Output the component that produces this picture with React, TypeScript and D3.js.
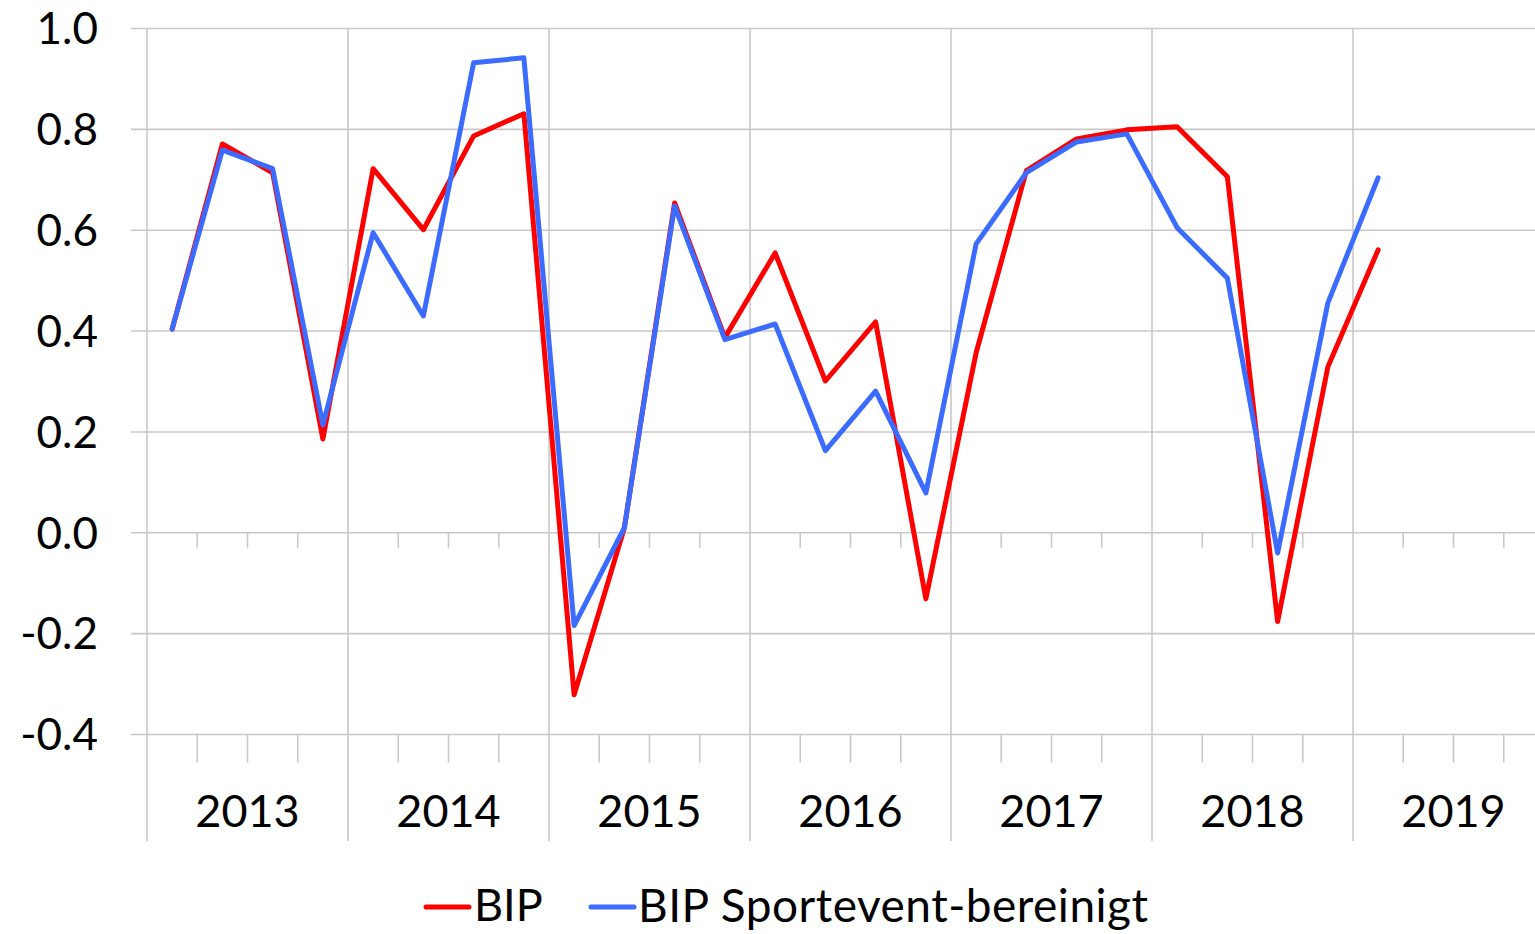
import React from "react";
import * as d3 from "d3";

const years = ["2013", "2014", "2015", "2016", "2017", "2018", "2019"];
const yTicks = [1.0, 0.8, 0.6, 0.4, 0.2, 0.0, -0.2, -0.4];
const bip = [0.404, 0.771, 0.714, 0.186, 0.722, 0.601, 0.787, 0.831, -0.321, 0.01, 0.654, 0.387, 0.555, 0.301, 0.418, -0.131, 0.357, 0.718, 0.781, 0.799, 0.805, 0.706, -0.176, 0.329, 0.561];
const bipAdj = [0.404, 0.759, 0.722, 0.214, 0.595, 0.43, 0.932, 0.942, -0.184, 0.01, 0.648, 0.383, 0.414, 0.163, 0.281, 0.079, 0.573, 0.714, 0.775, 0.791, 0.605, 0.505, -0.04, 0.456, 0.704];
const seriesNames = ["BIP", "BIP Sportevent-bereinigt"];
const colors = ["#ff0000", "#3b6bff"];

const W = 1535, H = 934;
const FONT = "Lato, 'Open Sans', sans-serif";

export default function App() {
  const nQ = years.length * 4;
  const x = d3.scaleLinear().domain([0, nQ]).range([147, 147 + nQ * 50.25]);
  const y = d3.scaleLinear().domain([-0.4, 1.0]).range([734.5, 28.5]);
  const line = d3.line<number>().x((_, i) => x(i + 0.5)).y((d) => y(d));
  const grid = "#c8c8c8";
  const zeroY = y(0);
  const botY = y(-0.4);
  return (
    <svg width={W} height={H} style={{ position: "absolute", left: 0, top: 0, background: "#fff" }}>
      {yTicks.map((t) => (
        <line key={"h" + t} x1={131} x2={W} y1={y(t)} y2={y(t)} stroke={grid} strokeWidth={1.6} />
      ))}
      {d3.range(years.length + 1).map((k) => (
        <line key={"v" + k} x1={x(k * 4)} x2={x(k * 4)} y1={y(1.0)} y2={841} stroke={grid} strokeWidth={1.6} />
      ))}
      {d3.range(nQ).filter((q) => q % 4 !== 0).map((q) => (
        <g key={"t" + q}>
          <line x1={x(q)} x2={x(q)} y1={zeroY} y2={zeroY + 15} stroke={grid} strokeWidth={1.6} />
          <line x1={x(q)} x2={x(q)} y1={botY} y2={botY + 28} stroke={grid} strokeWidth={1.6} />
        </g>
      ))}
      {yTicks.map((t) => (
        <text key={"yl" + t} x={98} y={y(t)} dy="0.36em" textAnchor="end" fontFamily={FONT} fontSize={44} fill="#000">
          {t.toFixed(1)}
        </text>
      ))}
      {years.map((yr, k) => (
        <text key={yr} x={x(k * 4 + 2)} y={827} textAnchor="middle" fontFamily={FONT} fontSize={45} fill="#000">
          {yr}
        </text>
      ))}
      <path d={line(bip) || ""} fill="none" stroke={colors[0]} strokeWidth={5} strokeLinejoin="round" strokeLinecap="round" />
      <path d={line(bipAdj) || ""} fill="none" stroke={colors[1]} strokeWidth={5} strokeLinejoin="round" strokeLinecap="round" />
      <g>
        <line x1={426} x2={469} y1={907} y2={907} stroke={colors[0]} strokeWidth={5} strokeLinecap="round" />
        <text x={474} y={905} dy="0.36em" fontFamily={FONT} fontSize={45} fill="#000">{seriesNames[0]}</text>
        <line x1={591} x2={634} y1={907} y2={907} stroke={colors[1]} strokeWidth={5} strokeLinecap="round" />
        <text x={638} y={905} dy="0.36em" fontFamily={FONT} fontSize={46} textLength={510} fill="#000">{seriesNames[1]}</text>
      </g>
    </svg>
  );
}
